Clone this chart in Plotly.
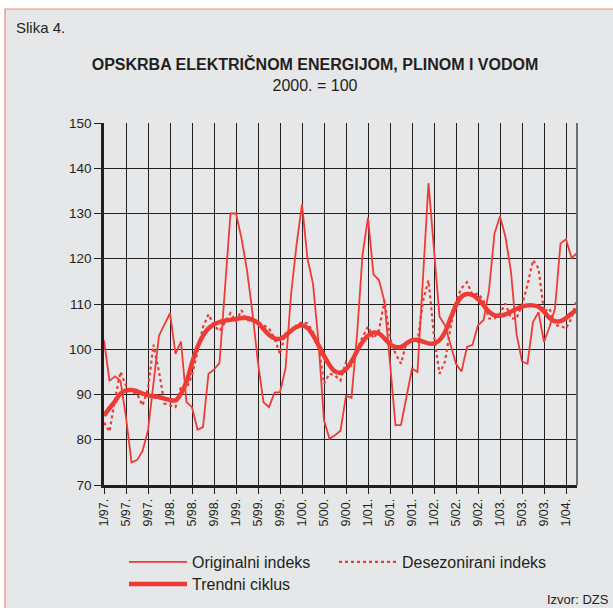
import plotly.graph_objects as go

# ---- data -------------------------------------------------------------
years = [97, 98, 99, 0, 1, 2, 3, 4]
months = [f"{m}/{y:02d}" for y in years for m in range(1, 13)][:87]   # 1/97 .. 3/04

original = [102, 93, 94, 93, 85, 75, 75.5, 77.5, 82, 92, 103, 105.5,
            108, 99, 101.7, 88.3, 87.2, 82.2, 82.8, 94.6, 95.5, 97, 113, 130,
            130, 124.5, 117.5, 108, 97, 88.3, 87.2, 90.4, 90.5, 95.7, 112, 123,
            132, 120, 114.5, 101.6, 84.3, 80.2, 81, 82, 89.7, 89.3, 103, 120.8,
            129.1, 116.5, 115.3, 110.5, 97, 83.2, 83.3, 89.8, 95.7, 95, 115, 136.7,
            122, 107.2, 105.3, 101, 96.8, 95.1, 100.5, 101, 105.3, 106.4, 113, 125.6,
            129.4, 124.8, 117.1, 103.4, 97.3, 96.8, 106, 108.2, 101.6, 104.9, 109, 123.4,
            124.3, 120.2, 121.2]

desezonirani = [83.8, 81.8, 89, 95, 92, 90.6, 90.2, 87.6, 91.3, 101, 95, 88,
                87.6, 87.2, 91.7, 91.3, 94.2, 99.4, 104.9, 107.7, 105.3, 104, 106, 108,
                106.2, 108.6, 106.4, 106.4, 106, 105.3, 104.6, 102.4, 99, 103.5, 103.8, 105.3,
                106, 105.7, 103.8, 100.9, 92.4, 94.6, 94.2, 93.1, 97.2, 96.4, 99.8, 102.7,
                105, 102.4, 104.2, 110.8, 102.4, 99, 96.8, 101.6, 102, 101.6, 110.7, 115.2,
                103, 94.6, 97.3, 104.7, 110.6, 113.5, 114.8, 112, 112.3, 110.8, 106.8, 106.8,
                107.9, 110.1, 106.8, 106.8, 109.8, 114.2, 119.7, 117.9, 108.3, 109, 105.3, 105.2,
                104.6, 106.8, 111.2]

trend = [85.3, 87, 88.5, 90.2, 90.9, 91, 90.7, 90.2, 89.8, 89.6, 89.4, 89.1,
         88.8, 88.7, 90.2, 92.8, 97, 100.5, 103, 104.6, 105.5, 106, 106.3, 106.5,
         106.7, 106.9, 106.9, 106.5, 105.8, 104.5, 103.2, 102.4, 102.3, 103, 104.1, 104.9,
         105.3, 104.7, 103.1, 100.9, 98.6, 96.5, 95.1, 94.8, 95.6, 97.3, 99.6, 101.6,
         103, 103.7, 103.5, 102.4, 101.1, 100.5, 100.5, 101.3, 102, 102.1, 101.7, 101.3,
         101.3, 102, 103.8, 106.8, 109.7, 111.6, 112.2, 112, 111.1, 109.7, 108.3, 107.5,
         107.4, 107.7, 108.3, 108.9, 109.4, 109.7, 109.7, 109.4, 108.3, 106.9, 106.2, 106.2,
         106.9, 107.9, 108.6]

tick_months = months[::4]
tick_labels = [m + "." for m in tick_months]
y_ticks = [70, 80, 90, 100, 110, 120, 130, 140, 150]

# ---- style ------------------------------------------------------------
RED = "#ef3b36"
INK = "#231f20"
FONT = "Liberation Sans, Arial, Helvetica, sans-serif"
W, H = 613, 608
ML, MR, MT, MB = 104, 36, 123, 123
PW, PH = W - ML - MR, H - MT - MB


def px_x(px):
    return (px - ML) / PW


def px_y(py):
    return (H - MB - py) / PH


def legend_box(x_px, y_px):
    return dict(orientation="h", xref="container", yref="container",
                x=x_px / W, y=1 - y_px / H, xanchor="left", yanchor="top",
                itemwidth=58, bgcolor="rgba(0,0,0,0)",
                font=dict(size=16, family=FONT, color=INK))


fig = go.Figure()
fig.add_trace(go.Scatter(x=months, y=original, mode="lines", name="Originalni indeks",
                         line=dict(color=RED, width=1.8), legend="legend"))
fig.add_trace(go.Scatter(x=months, y=desezonirani, mode="lines", name="Desezonirani indeks",
                         line=dict(color=RED, width=2.2, dash="dot"), legend="legend3"))
fig.add_trace(go.Scatter(x=months, y=trend, mode="lines", name="Trendni ciklus",
                         line=dict(color=RED, width=4.5, shape="spline"), legend="legend2"))

fig.update_layout(
    width=W, height=H,
    margin=dict(l=ML, r=MR, t=MT, b=MB, pad=0, autoexpand=False),
    paper_bgcolor="white",
    plot_bgcolor="rgba(0,0,0,0)",
    font=dict(family=FONT, color=INK, size=13),
    title=dict(text="<b>OPSKRBA ELEKTRIČNOM ENERGIJOM, PLINOM I VODOM</b><br>2000. = 100",
               x=315 / W, xanchor="center", xref="container",
               y=1 - 70 / H, yanchor="top", yref="container",
               font=dict(size=16, family=FONT, color=INK)),
    xaxis=dict(type="category", range=[0, len(months) - 1],
               tickmode="array", tickvals=tick_months, ticktext=tick_labels,
               tickangle=-90, ticks="outside", ticklen=6, tickcolor=INK,
               tickfont=dict(size=12.5, family=FONT, color=INK),
               showgrid=True, gridcolor=INK, gridwidth=1.2,
               showline=True, linecolor=INK, linewidth=2.5,
               zeroline=False, fixedrange=True, automargin=False),
    yaxis=dict(range=[70, 150], tickvals=y_ticks,
               ticks="outside", ticklen=7, tickcolor=INK,
               tickfont=dict(size=13.5, family=FONT, color=INK),
               showgrid=True, gridcolor=INK, gridwidth=1.2,
               showline=True, linecolor=INK, linewidth=2.5,
               zeroline=False, fixedrange=True, automargin=False),
    showlegend=True,
    legend=legend_box(124, 545),
    legend3=legend_box(334, 545),
    legend2=legend_box(124, 567),
)

# background panel with thin border
fig.add_shape(type="rect", xref="paper", yref="paper",
              x0=px_x(5), x1=px_x(640), y0=px_y(640), y1=px_y(9),
              fillcolor="#e6e7e8", line=dict(color="#f0877f", width=1.2), layer="below")
# right frame line of plot area
fig.add_shape(type="line", xref="x domain", yref="y domain", x0=1, x1=1, y0=0, y1=1,
              line=dict(color="#6d6e70", width=2))

fig.add_annotation(text="Slika 4.", xref="paper", yref="paper",
                   x=px_x(14), y=px_y(27), xanchor="left", yanchor="middle",
                   showarrow=False, font=dict(size=15, family=FONT, color=INK))
fig.add_annotation(text="Izvor: DZS", xref="paper", yref="paper",
                   x=px_x(611), y=px_y(599), xanchor="right", yanchor="middle",
                   showarrow=False, font=dict(size=13, family=FONT, color=INK))

fig.write_html("out.html", config={"displayModeBar": False},
               post_script="document.body.style.margin='0px';")
